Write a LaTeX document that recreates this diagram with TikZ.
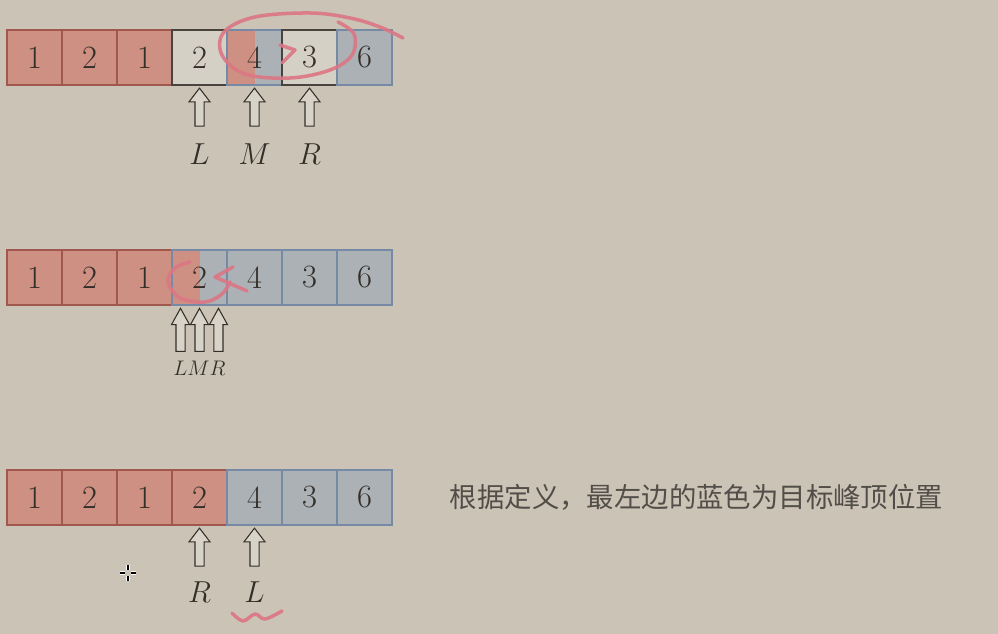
\documentclass[tikz,border=0pt]{standalone}
\usepackage{fontspec}
\newfontfamily\cjk{Noto Sans CJK SC}
\usetikzlibrary{positioning,shapes.arrows}
\definecolor{bgc}{RGB}{203,196,182}
\definecolor{redc}{RGB}{205,144,130}
\definecolor{bluec}{RGB}{172,177,181}
\definecolor{redline}{RGB}{160,88,78}
\definecolor{blueline}{RGB}{118,138,165}
\definecolor{ink}{RGB}{52,46,40}
\definecolor{pen}{RGB}{220,118,132}

\begin{document}
\begin{tikzpicture}[x=0.02cm, y=-0.02cm,
    cell/.style={draw, minimum size=1.1cm, inner sep=0pt, line width=0.6pt, text=ink, font=\fontsize{18.5}{20}\selectfont},
    lo/.style={cell, fill=redc, draw=redline},
    hi/.style={cell, fill=bluec, draw=blueline},
    open/.style={cell, fill=bgc!80!white, draw=ink!90},
    half/.style={cell, fill=bluec, draw=blueline, path picture={\fill[redc] (path picture bounding box.south west) rectangle (path picture bounding box.north);}},
    ptr/.style={single arrow, draw=ink, fill=bgc!75!white, shape border rotate=90, anchor=tip, inner xsep=0.08cm, inner ysep=0pt, line width=0.6pt, minimum height=0.76cm, minimum width=0.4cm, single arrow head extend=0.12cm, single arrow tip angle=75},
    thin ptr/.style={ptr, minimum height=0.86cm, minimum width=0.34cm, single arrow head extend=0.09cm, single arrow tip angle=58},
    lab/.style={inner sep=0pt, text=ink, font=\fontsize{18}{20}\selectfont},
    small lab/.style={inner sep=0pt, text=ink, font=\fontsize{12}{13}\selectfont},
    scribble/.style={draw=pen, line width=2pt, line cap=round, line join=round, opacity=0.9}]

  \fill[bgc] (0,0) rectangle (998,634);
  \useasboundingbox (0,0) rectangle (998,634);

  % first row: L M R apart
  \foreach \v/\s [count=\i] in {1/lo,2/lo,1/lo,2/open,4/half,3/open,6/hi}
    \node[\s] (a\i) at (55*\i-20.5,57.5) {\v};
  \node[ptr] (pl1) at ([yshift=-1pt]a4.south) {};
  \node[ptr] (pm1) at ([yshift=-1pt]a5.south) {};
  \node[ptr] (pr1) at ([yshift=-1pt]a6.south) {};
  \node[lab, below=0.33cm of pl1.tail] (l1) {$L$};
  \node[lab, below=0.33cm of pm1.tail] (m1) {$M$};
  \node[lab, below=0.33cm of pr1.tail] (r1) {$R$};

  % second row: L M R together
  \foreach \v/\s [count=\i] in {1/lo,2/lo,1/lo,2/half,4/hi,3/hi,6/hi}
    \node[\s] (b\i) at (55*\i-20.5,277.5) {\v};
  \node[thin ptr] (pl2) at ([xshift=-0.38cm,yshift=-1pt]b4.south) {};
  \node[thin ptr] (pm2) at ([yshift=-1pt]b4.south) {};
  \node[thin ptr] (pr2) at ([xshift=0.38cm,yshift=-1pt]b4.south) {};
  \node[small lab, below=0.17cm of pm2.tail] (lmr2) {$LMR$};

  % third row: R and L crossed
  \foreach \v/\s [count=\i] in {1/lo,2/lo,1/lo,2/lo,4/hi,3/hi,6/hi}
    \node[\s] (c\i) at (55*\i-20.5,497.5) {\v};
  \node[ptr] (pr3) at ([yshift=-1pt]c4.south) {};
  \node[ptr] (pl3) at ([yshift=-1pt]c5.south) {};
  \node[lab, below=0.3cm of pr3.tail] (r3) {$R$};
  \node[lab, below=0.3cm of pl3.tail] (l3) {$L$};
  \node[inner sep=0pt, anchor=west, text=ink!85, font=\cjk\fontsize{15.6}{18}\selectfont, right=1.14cm of c7] (note) {根据定义，最左边的蓝色为目标峰顶位置};

  % pen marks
  \draw[scribble] plot[smooth, tension=0.6] coordinates {(338,22) (354,34) (352,55) (330,70) (290,78) (245,74) (222,55) (224,32) (255,17) (310,13) (350,18) (380,27) (403,38)};
  \draw[scribble] (280,45) -- (295,50) -- (282,63);
  \draw[scribble] plot[smooth, tension=0.6] coordinates {(190,262) (175,268) (168,282) (180,298) (205,302) (222,294) (230,282)};
  \draw[scribble] (233,267) -- (215,277) -- (247,291);
  \draw[scribble] plot[smooth, tension=0.6] coordinates {(232,613) (243,621) (255,614) (265,619) (282,611)};

  % cursor
  \foreach \p/\q in {{(120,573)}/{(125,573)}, {(131,573)}/{(136,573)}, {(128,565)}/{(128,570)}, {(128,576)}/{(128,581)}} {
    \draw[white, line width=2.2pt] \p -- \q;
    \draw[black, line width=1pt] \p -- \q;
  }
\end{tikzpicture}
\end{document}
